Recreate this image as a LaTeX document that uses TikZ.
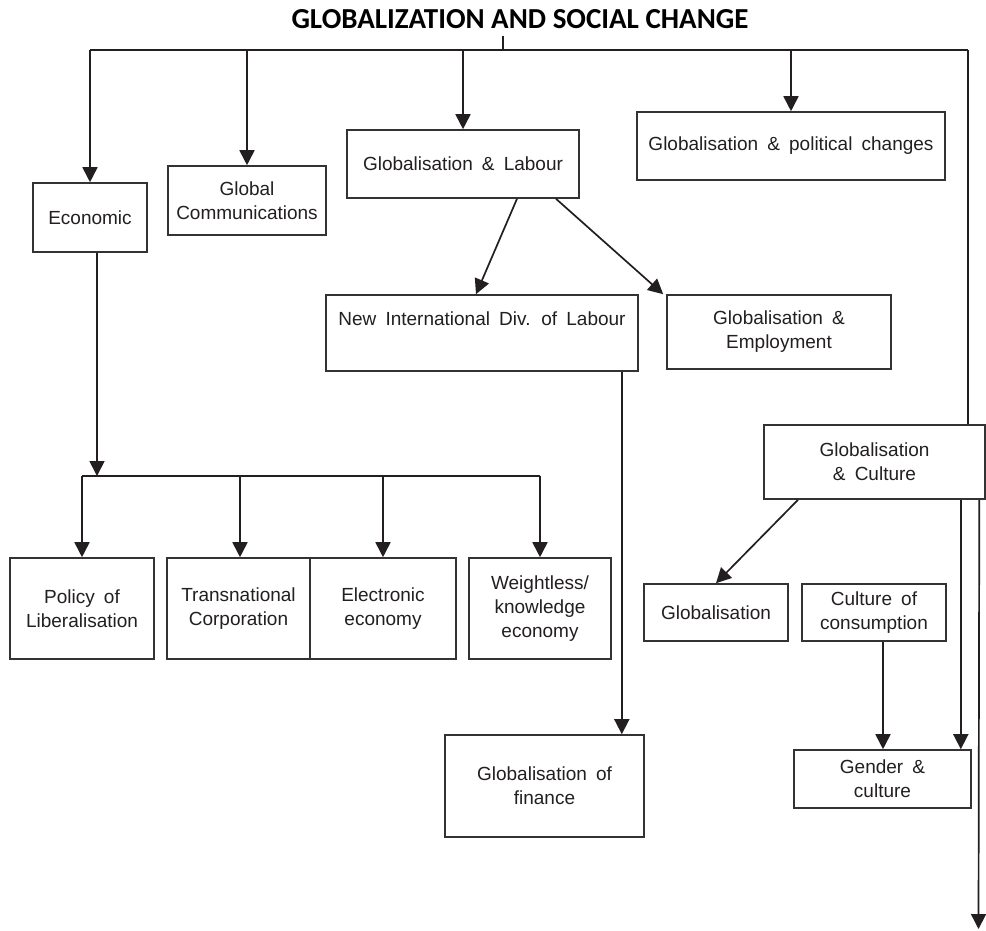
\documentclass[tikz,border=0pt]{standalone}
\usepackage{fontspec}
\setmainfont{Liberation Sans}
\newfontfamily\titlefont{Carlito}
\usetikzlibrary{arrows.meta}
\definecolor{ink}{HTML}{231F20}
\definecolor{edge}{HTML}{333333}
\newcommand\boxfont{\fontsize{19}{24}\selectfont\spaceskip 0.48em plus 0.2em minus 0.1em\relax}
\begin{document}
\begin{tikzpicture}[x=1pt,y=-1pt,
  box/.style={draw=edge, line width=1.6pt, align=center, inner sep=0pt, text=ink, font=\boxfont},
  arr/.style={draw=ink, line width=1.7pt, -{Triangle[width=15pt,length=15pt]}},
  ln/.style={draw=ink, line width=1.7pt}]
\fill[white] (0,0) rectangle (986,930);
\useasboundingbox (0,0) rectangle (986,930);

% title
\node[font=\titlefont\bfseries\fontsize{29}{31}\selectfont, text=black, inner sep=0pt] (title) at (520,19) {GLOBALIZATION AND SOCIAL CHANGE};

% boxes
\node[box, minimum width=114, minimum height=69] (econ) at (90,217.5) {Economic};
\node[box, minimum width=158, minimum height=69] (gcom) at (247,200.5) {Global\\Communications};
\node[box, minimum width=232, minimum height=68] (labour) at (463,164) {Globalisation \& Labour};
\node[box, minimum width=308, minimum height=68] (polit) at (791,146) {Globalisation \& political changes};
\node[box, minimum width=312, minimum height=76, text height=14, text depth=30] (newdiv) at (482,333) {New International Div. of Labour};
\node[box, minimum width=224, minimum height=74] (employ) at (779,332) {Globalisation \&\\Employment};
\node[box, minimum width=221, minimum height=74] (culture) at (874.5,462) {Globalisation\\\& Culture};
\node[box, minimum width=144, minimum height=101] (policy) at (82,608.5) {Policy of\\Liberalisation};
\node[box, minimum width=143, minimum height=101] (trans) at (238.5,608.5) {Transnational\\Corporation};
\node[box, minimum width=146, minimum height=101] (elec) at (383,608.5) {Electronic\\economy};
\node[box, minimum width=142, minimum height=101] (weight) at (540,608.5) {Weightless/\\knowledge\\economy};
\node[box, minimum width=144, minimum height=57] (glob) at (716,612.5) {Globalisation};
\node[box, minimum width=144, minimum height=57] (consum) at (874,612.5) {Culture of\\consumption};
\node[box, minimum width=199, minimum height=102] (finance) at (544.5,786) {Globalisation of\\finance};
\node[box, minimum width=177, minimum height=58] (gender) at (882.5,779) {Gender \&\\culture};

% top distribution
\coordinate (stemtop) at (503,36);
\coordinate (bus) at (503,50);
\coordinate (busL) at (90,50);
\coordinate (busR) at (968,50);
\draw[ln] (stemtop) -- (bus);
\draw[ln] (busL) -- (busR);
\draw[arr] (busL) -- (econ.north);
\draw[arr] (gcom.north |- bus) -- (gcom.north);
\draw[arr] (labour.north |- bus) -- (labour.north);
\draw[arr] (polit.north |- bus) -- (polit.north);
\draw[ln] (busR) -- (busR |- culture.north);

% labour branches
\draw[arr] ([xshift=54]labour.south) -- ([xshift=-6]newdiv.north);
\draw[arr] ([xshift=93]labour.south) -- ([xshift=-3]employ.north west);

% economic branches
\coordinate (ebus) at (97,476);
\coordinate (tdrop) at ([xshift=1.5]trans.north);
\draw[arr] (econ.south -| ebus) -- (ebus);
\draw[ln] (policy.north |- ebus) -- (weight.north |- ebus);
\draw[arr] (policy.north |- ebus) -- (policy.north);
\draw[arr] (tdrop |- ebus) -- (tdrop);
\draw[arr] (elec.north |- ebus) -- (elec.north);
\draw[arr] (weight.north |- ebus) -- (weight.north);

% new div -> finance
\coordinate (nd) at ([xshift=-17]newdiv.south east);
\draw[arr] (nd) -- (nd |- finance.north);

% culture branches
\draw[arr] ([xshift=-76.5]culture.south) -- (glob.north);
\coordinate (c1) at ([xshift=-25]culture.south east);
\coordinate (c2) at ([xshift=-6.5]culture.south east);
\coordinate (bottomend) at (978.5,929);
\draw[arr] (c1) -- (c1 |- gender.north);
\draw[arr] (c2) -- (bottomend);
\coordinate (cc) at ([xshift=9]consum.south);
\draw[arr] (cc) -- (cc |- gender.north);
\end{tikzpicture}
\end{document}
